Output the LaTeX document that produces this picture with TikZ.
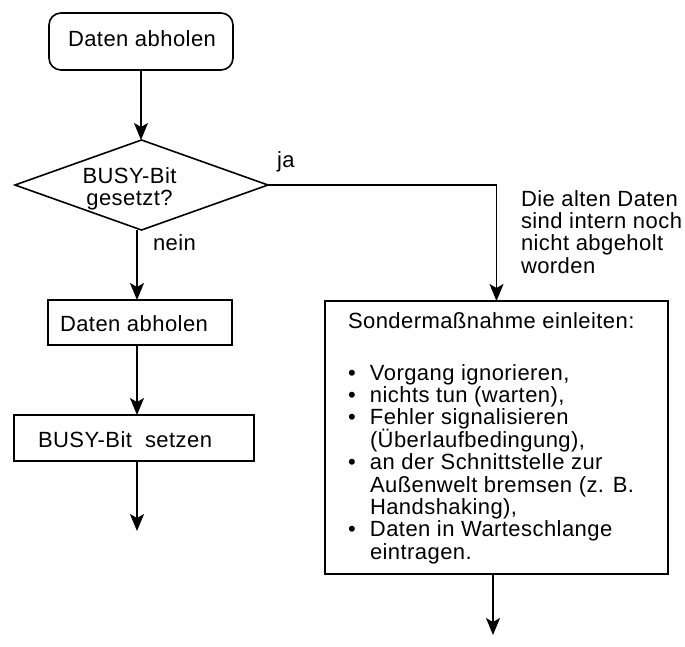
\documentclass[tikz,border=0pt]{standalone}
\usepackage{fontspec}
\setmainfont[LetterSpace=2]{Liberation Sans}
\usetikzlibrary{shapes.geometric,arrows.meta}

% lines stacked at a fixed baseline distance; the node baseline is the first line
\newcommand\leftstack[2]{\vtop{\baselineskip=#1\lineskiplimit=-100pt\halign{##\hfil\cr#2\crcr}}}
\newcommand\centerstack[2]{\vtop{\baselineskip=#1\lineskiplimit=-100pt\halign{\hfil##\hfil\cr#2\crcr}}}
\newcommand\bl{\hbox to 22pt{\textbullet\hfil}}
\newcommand\ind{\hskip 22pt}

\begin{document}
\begin{tikzpicture}[x=1pt,y=-1pt,
  every node/.style={font=\fontsize{22}{22.4}\selectfont},
  box/.style={draw, line width=1.6pt, inner sep=0pt, outer sep=0pt},
  txt/.style={anchor=base west, inner sep=0pt, outer sep=0pt},
  ctxt/.style={anchor=base, inner sep=0pt, outer sep=0pt},
  wire/.style={line width=1.5pt},
  arr/.style={wire, -{Stealth[length=17pt,width=14pt,inset=4pt]}}]
\useasboundingbox (0,0) rectangle (685,646);

% process boxes
\node[box, rounded corners=12pt, minimum width=184pt, minimum height=57pt] (start) at (141,41.5) {};
\node[box, diamond, minimum width=253pt, minimum height=90pt] (dec) at (141.5,185) {};
\node[box, minimum width=184pt, minimum height=45pt] (fetch) at (140,322.5) {};
\node[box, minimum width=240pt, minimum height=46pt] (setbit) at (134,438) {};
\node[box, minimum width=343pt, minimum height=273pt] (special) at (496.5,437.5) {};

% texts
\node[txt] (tstart) at (68,46) {Daten abholen};
\node[ctxt] (tdec) at (129.5,183) {\centerstack{22pt}{BUSY-Bit\cr gesetzt?}};
\node[txt] (tja) at (277,167) {ja};
\node[txt] (tnein) at (153,250) {nein};
\node[txt] (tnote) at (521,206) {\leftstack{22.4pt}{Die alten Daten\cr sind intern noch\cr nicht abgeholt\cr worden}};
\node[txt] (tfetch) at (60,331) {Daten abholen};
\node[txt] (tsetbit) at (38,447) {BUSY-Bit\ \ setzen};
\node[txt] (ttitle) at (348,328) {Sonderma\ss nahme einleiten:};
\node[txt] (tlist) at (348,380) {\leftstack{22.4pt}{%
  \bl Vorgang ignorieren,\cr
  \bl nichts tun (warten),\cr
  \bl Fehler signalisieren\cr
  \ind (Überlaufbedingung),\cr
  \bl an der Schnittstelle zur\cr
  \ind Außenwelt bremsen (z. B.\cr
  \ind Handshaking),\cr
  \bl Daten in Warteschlange\cr
  \ind eintragen.}};

% connectors
\coordinate (colL) at (137,0);
\coordinate (endL) at (137,531);
\coordinate (endR) at (493,635);
\draw[arr] (start.south) -- (start.south |- dec.north);
\draw[arr] (dec.south -| colL) -- (fetch.north -| colL);
\draw[arr] (fetch.south -| colL) -- (setbit.north -| colL);
\draw[arr] (setbit.south -| colL) -- (endL);
\draw[arr] (dec.east) -| (special.north);
\draw[arr] (special.south -| endR) -- (endR);
\end{tikzpicture}
\end{document}
